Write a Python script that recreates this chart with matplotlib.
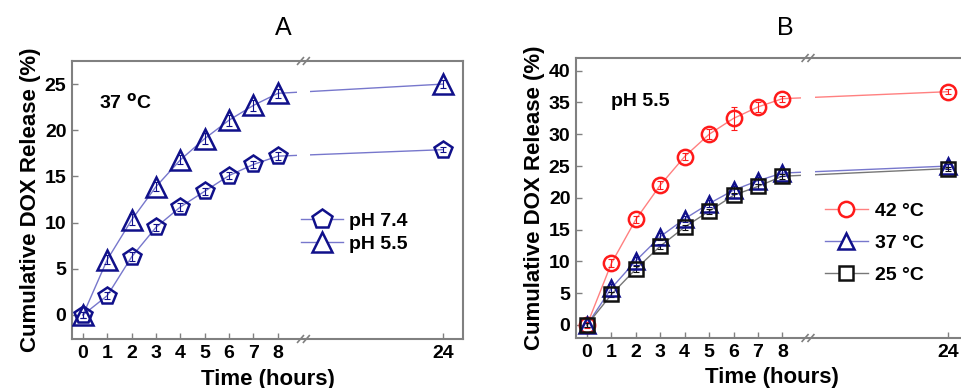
import numpy as np
import matplotlib
matplotlib.use("Agg")
import matplotlib.pyplot as plt

plt.rcParams['font.family'] = ['Liberation Sans', 'DejaVu Sans']

# ---------------- data ----------------
hours = [0, 1, 2, 3, 4, 5, 6, 7, 8, 24]
x_ticklabels = ['0', '1', '2', '3', '4', '5', '6', '7', '8', '24']

# Panel A (37 °C)
phA_74 = [0, 2.1, 6.3, 9.5, 11.7, 13.4, 15.1, 16.3, 17.2, 17.9]
phA_74_err = [0.3, 0.4, 0.5, 0.4, 0.4, 0.4, 0.4, 0.4, 0.4, 0.3]
phA_55 = [0, 6.0, 10.3, 13.9, 16.8, 19.1, 21.1, 22.7, 24.0, 25.0]
phA_55_err = [0.3, 0.5, 0.6, 0.5, 0.5, 0.6, 0.6, 0.6, 0.5, 0.4]
legendA = ['pH 7.4', 'pH 5.5']

# Panel B (pH 5.5)
t42 = [0, 9.7, 16.6, 22.0, 26.5, 30.0, 32.5, 34.3, 35.6, 36.7]
t42_err = [0.4, 0.6, 0.6, 0.6, 0.5, 0.8, 1.8, 0.8, 0.5, 0.4]
t37 = [0, 5.8, 10.1, 13.9, 16.7, 19.1, 21.2, 22.7, 23.9, 25.0]
t37_err = [0.3, 0.6, 0.6, 0.5, 0.5, 0.6, 0.6, 0.6, 0.5, 0.4]
t25 = [0, 4.8, 8.8, 12.4, 15.4, 17.9, 20.4, 21.8, 23.4, 24.6]
t25_err = [0.3, 0.4, 0.4, 0.4, 0.4, 0.4, 0.4, 0.4, 0.4, 0.3]
legendB = ['42 °C', '37 °C', '25 °C']

# broken axis: hours after 8 mapped onto compressed axis
BREAK = 9.05
def xmap(h):
    h = np.asarray(h, dtype=float)
    return np.where(h <= 8, h, 8 + (h - 8) * (6.78 / 16.0))

NAVY = '#10108a'
NAVY_LINE = '#7777cc'
RED = '#ff1a1a'
RED_LINE = '#ff8080'
BLACK = '#111111'
GREY_LINE = '#777777'
SPINE = '#808080'

fig = plt.figure(figsize=(9.62, 3.88), dpi=100)
W, H = 962, 388
axA = fig.add_axes([72 / W, 1 - 339 / H, (463 - 72) / W, (339 - 61) / H])
axB = fig.add_axes([576 / W, 1 - 338 / H, (968 - 576) / W, (338 - 58) / H])

def style_axis(ax, ylim, yticks):
    ax.set_xlim(-0.45, 15.6)
    ax.set_ylim(*ylim)
    xs = xmap(hours)
    ax.set_xticks(xs)
    ax.set_xticklabels(x_ticklabels)
    ax.set_yticks(yticks)
    ax.tick_params(direction='in', length=4, width=1, color=SPINE,
                   labelsize=14, pad=4)
    for lab in ax.get_xticklabels() + ax.get_yticklabels():
        lab.set_fontweight('bold')
    for s in ax.spines.values():
        s.set_color(SPINE)
        s.set_linewidth(1.5)
    ax.set_xlabel('Time (hours)', fontsize=16, fontweight='bold', labelpad=5)
    ax.set_ylabel('Cumulative DOX Release (%)', fontsize=16, fontweight='bold',
                  labelpad=3)
    # gap for the break
    ax.axvspan(BREAK - 0.28, BREAK + 0.28, color='white', zorder=2.5, lw=0)
    # break marks on spines
    for yv in (0, 1):
        for dx in (-0.12, 0.12):
            ax.plot([BREAK + dx - 0.12, BREAK + dx + 0.12], [yv - 0.012, yv + 0.012],
                    transform=ax.get_xaxis_transform(), color=SPINE, lw=1.2,
                    clip_on=False, zorder=5)

def series(ax, y, err, marker, mcol, lcol, label, ms=12, lms=None):
    xs = xmap(hours)
    ax.plot(xs, y, color=lcol, lw=1.0, zorder=2)
    ax.errorbar(xs, y, yerr=err, fmt='none', ecolor=mcol, elinewidth=0.8,
                capsize=2, capthick=0.8, zorder=3)
    ax.plot(xs, y, linestyle='none', marker=marker, markersize=ms,
            markerfacecolor='none', markeredgecolor=mcol, markeredgewidth=1.8,
            zorder=4)
    # legend proxy
    ax.plot([], [], color=lcol, lw=1.0, marker=marker, markersize=lms or ms,
            markerfacecolor='white', markeredgecolor=mcol, markeredgewidth=1.8,
            label=label)

# ---------- Panel A ----------
style_axis(axA, (-2.6, 27.5), [0, 5, 10, 15, 20, 25])
series(axA, phA_74, phA_74_err, 'p', NAVY, NAVY_LINE, legendA[0], ms=13, lms=15)
series(axA, phA_55, phA_55_err, '^', NAVY, NAVY_LINE, legendA[1], ms=14)
axA.text(0.07, 0.83, r'37 $^{\mathbf{o}}$C', transform=axA.transAxes,
         fontsize=14, fontweight='bold')
axA.legend(loc='upper left', bbox_to_anchor=(0.56, 0.49), frameon=False,
           prop={'weight': 'bold', 'size': 14}, handlelength=2.2,
           handletextpad=0.3, labelspacing=0.25, borderpad=0)

# ---------- Panel B ----------
style_axis(axB, (-2.05, 42.0), [0, 5, 10, 15, 20, 25, 30, 35, 40])
series(axB, t42, t42_err, 'o', RED, RED_LINE, legendB[0], ms=11)
series(axB, t37, t37_err, '^', NAVY, NAVY_LINE, legendB[1], ms=12)
series(axB, t25, t25_err, 's', BLACK, GREY_LINE, legendB[2], ms=10)
axB.text(0.09, 0.83, 'pH 5.5', transform=axB.transAxes,
         fontsize=14, fontweight='bold')
axB.legend(loc='upper left', bbox_to_anchor=(0.61, 0.52), frameon=False,
           prop={'weight': 'bold', 'size': 14}, handlelength=2.2,
           handletextpad=0.4, labelspacing=0.75, borderpad=0)

fig.text(283 / W, 1 - 28 / H, 'A', ha='center', va='center', fontsize=18)
fig.text(785 / W, 1 - 28 / H, 'B', ha='center', va='center', fontsize=18)

fig.savefig('out.png', dpi=100)
